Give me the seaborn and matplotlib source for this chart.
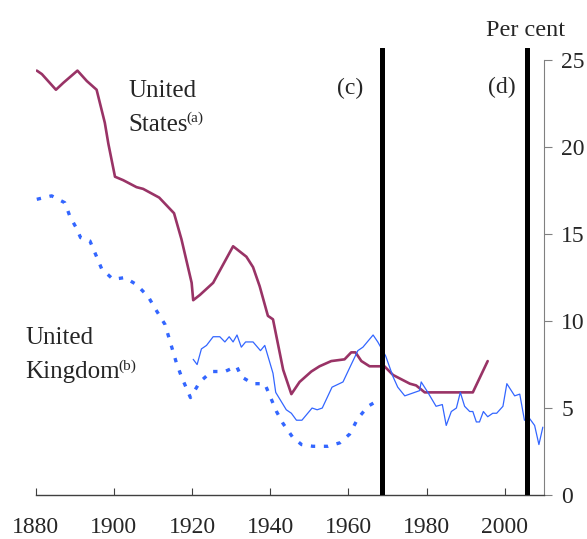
import matplotlib
matplotlib.use("Agg")
import matplotlib.pyplot as plt
import seaborn as sns
import pandas as pd

# ---- data ----
us_years = [1880.3, 1881.6, 1885.2, 1887.1, 1890.7, 1893.1, 1895.6, 1897.7, 1898.6, 1900.3,
            1902.4, 1905.8, 1907.5, 1911.6, 1915.4, 1917.3, 1919.9, 1920.3, 1922.0, 1925.4,
            1927.1, 1930.5, 1933.9, 1935.6, 1937.3, 1939.4, 1940.7, 1943.3, 1945.4, 1947.5,
            1950.5, 1952.6, 1955.6, 1959.0, 1960.7, 1961.8, 1963.3, 1965.4, 1969.2, 1971.4,
            1975.7, 1977.3, 1979.5, 1991.8, 1995.6]
us_values = [24.4, 24.2, 23.3, 23.7, 24.4, 23.8, 23.3, 21.4, 20.2, 18.3,
             18.1, 17.7, 17.6, 17.1, 16.2, 14.7, 12.2, 11.2, 11.5, 12.2,
             12.9, 14.3, 13.7, 13.1, 12.0, 10.3, 10.1, 7.2, 5.8, 6.5,
             7.1, 7.4, 7.7, 7.8, 8.2, 8.2, 7.7, 7.4, 7.4, 6.9,
             6.4, 6.3, 5.9, 5.9, 7.7]

uk_hist_years = [1880.3, 1884.1, 1887.5, 1888.8, 1890.3, 1891.5, 1893.9, 1895.6, 1896.9, 1899.8,
                 1902.8, 1905.8, 1908.8, 1910.9, 1913.1, 1916.0, 1917.3, 1919.6, 1922.0, 1925.0,
                 1928.4, 1931.4, 1932.6, 1935.6, 1938.6, 1941.6, 1943.3, 1945.8, 1948.0, 1950.9,
                 1954.8, 1957.8, 1960.3, 1962.4, 1965.0, 1966.5]
uk_hist_values = [17.0, 17.2, 16.8, 16.0, 15.4, 14.8, 14.6, 13.7, 13.0, 12.4,
                  12.5, 12.1, 11.4, 10.6, 9.8, 7.6, 6.8, 5.6, 6.5, 7.1,
                  7.1, 7.4, 6.8, 6.4, 6.4, 4.8, 4.1, 3.3, 2.9, 2.8,
                  2.8, 3.0, 3.5, 4.4, 5.1, 5.3]

uk_years = [1920.3, 1921.3, 1922.4, 1923.7, 1925.4, 1927.1, 1928.4, 1929.5, 1930.5, 1931.5,
            1932.6, 1933.7, 1935.6, 1937.5, 1938.6, 1940.7, 1941.4, 1944.1, 1945.4, 1946.7,
            1948.1, 1950.7, 1952.0, 1953.3, 1955.8, 1958.6, 1960.7, 1962.4, 1963.7, 1966.3,
            1967.5, 1969.5, 1971.4, 1972.6, 1974.4, 1978.2, 1978.6, 1980.3, 1982.4, 1984.0,
            1985.0, 1986.3, 1987.6, 1988.6, 1989.7, 1991.0, 1991.8, 1992.7, 1993.5, 1994.5,
            1995.6, 1996.9, 1997.9, 1999.5, 2000.5, 2002.5, 2003.8, 2005.0, 2006.3, 2007.6,
            2008.7, 2009.7]
uk_values = [7.8, 7.5, 8.4, 8.6, 9.1, 9.1, 8.8, 9.1, 8.8, 9.2,
             8.5, 8.8, 8.8, 8.3, 8.6, 7.0, 5.9, 4.9, 4.7, 4.3,
             4.3, 5.0, 4.9, 5.0, 6.2, 6.5, 7.5, 8.3, 8.5, 9.2,
             8.8, 8.0, 6.8, 6.2, 5.7, 6.0, 6.5, 5.9, 5.1, 5.2,
             4.0, 4.8, 5.0, 5.9, 5.1, 4.8, 4.8, 4.2, 4.2, 4.8,
             4.5, 4.7, 4.7, 5.1, 6.4, 5.7, 5.8, 4.3, 4.4, 4.0,
             2.9, 3.9]

break_years = [1968.5, 2005.6]
break_labels = ["(c)", "(d)"]
x_ticks = [1880, 1900, 1920, 1940, 1960, 1980, 2000]
y_ticks = [0, 5, 10, 15, 20, 25]

# ---- style ----
sns.set_style("white")
plt.rcParams["font.family"] = ["Liberation Serif", "DejaVu Serif"]

W, H = 587, 539
fig = plt.figure(figsize=(W / 100, H / 100), dpi=100)
ax = fig.add_axes([35.6 / W, 44 / H, (544 - 35.6) / W, (495 - 48) / H])

maroon = "#993366"
blue = "#3366FF"

sns.lineplot(data=pd.DataFrame({"year": us_years, "v": us_values}), x="year", y="v",
             ax=ax, color=maroon, lw=1.9, estimator=None)
sns.lineplot(data=pd.DataFrame({"year": uk_hist_years, "v": uk_hist_values}), x="year", y="v",
             ax=ax, color=blue, lw=2.4, estimator=None, linestyle=(0, (1.3, 2.6)))
sns.lineplot(data=pd.DataFrame({"year": uk_years, "v": uk_values}), x="year", y="v",
             ax=ax, color=blue, lw=0.9, estimator=None)

for bx in break_years:
    ax.axvline(bx, color="black", lw=3.6, zorder=5)

ax.set_xlim(1880, 2010)
ax.set_ylim(0, 25.7)
ax.set_xlabel("")
ax.set_ylabel("")

ax.spines["left"].set_visible(False)
ax.spines["top"].set_visible(False)
ax.spines["right"].set_color("#808080")
ax.spines["right"].set_bounds(0, 25)
ax.spines["bottom"].set_color("#404040")
ax.spines["bottom"].set_linewidth(1.0)

ax.set_xticks(x_ticks)
ax.set_xticklabels([str(t) for t in x_ticks])
ax.set_yticks(y_ticks)
ax.yaxis.tick_right()
ax.tick_params(axis="x", direction="in", length=5, width=0.8, color="#404040",
               labelsize=17, pad=16, bottom=True)
ax.tick_params(axis="y", direction="out", length=5.5, width=0.8, color="#808080",
               labelsize=17, pad=7, right=True, left=False)

# ---- annotations ----
def fx(px):
    return px / W

def fy(py):
    return 1 - py / H

fig.text(fx(486), fy(36), "Per cent", fontsize=17.5, va="baseline", ha="left")
fig.text(fx(350), fy(88), break_labels[0], fontsize=17, va="center", ha="center")
fig.text(fx(502), fy(87), break_labels[1], fontsize=17, va="center", ha="center")

t1 = fig.text(fx(128), fy(97), "United", fontsize=18, va="baseline", ha="left")
t2 = fig.text(fx(128), fy(131), "States", fontsize=18, va="baseline", ha="left")
ax.annotate("(a)", xy=(1.0, 1.0), xycoords=t2, xytext=(-1, 2), textcoords="offset points",
            fontsize=11, va="top", ha="left")

t3 = fig.text(fx(25), fy(344), "United", fontsize=18, va="baseline", ha="left")
t4 = fig.text(fx(25), fy(378), "Kingdom", fontsize=18, va="baseline", ha="left")
ax.annotate("(b)", xy=(1.0, 1.0), xycoords=t4, xytext=(-1, 1), textcoords="offset points",
            fontsize=11, va="top", ha="left")

fig.savefig("out.png", dpi=100)
